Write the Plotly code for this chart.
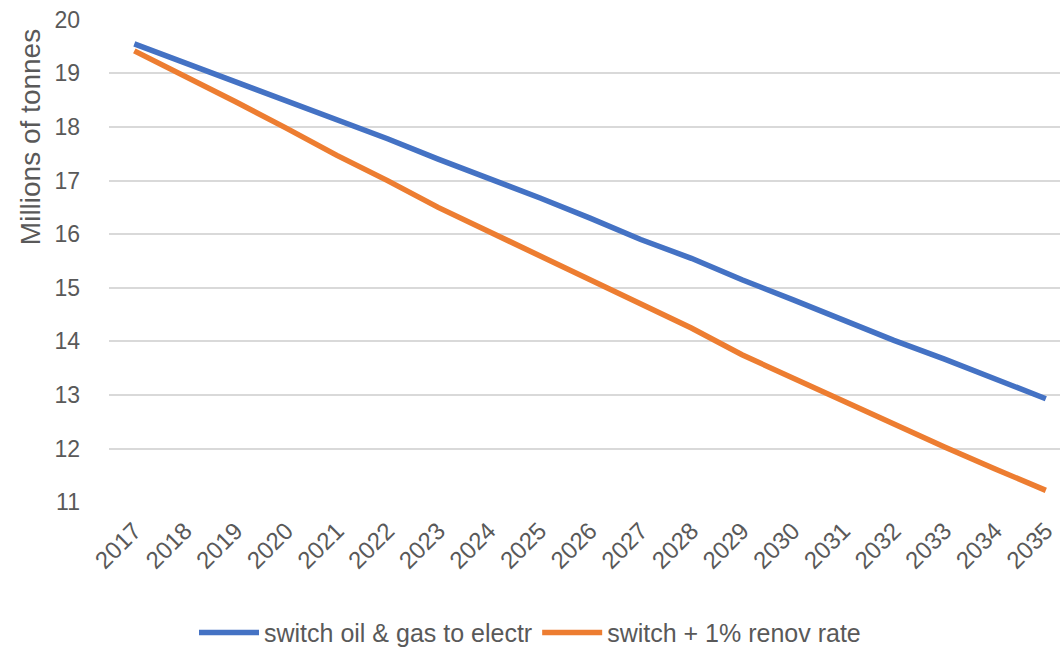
import plotly.graph_objects as go

years = list(range(2017, 2036))
switch_electr = [19.55, 19.2, 18.85, 18.5, 18.15, 17.78, 17.4, 17.05, 16.68, 16.3,
                 15.9, 15.55, 15.15, 14.78, 14.4, 14.02, 13.67, 13.3, 12.93]
switch_renov = [19.42, 18.95, 18.47, 17.98, 17.47, 17.0, 16.5, 16.05, 15.6, 15.13,
                14.68, 14.25, 13.75, 13.32, 12.9, 12.45, 12.03, 11.62, 11.22]
series_names = ["switch oil & gas to electr", "switch + 1% renov rate"]
y_ticks = list(range(11, 21))
y_title = "Millions of tonnes"

font_family = "Liberation Sans, Arial"
text_color = "#595959"

fig = go.Figure()
fig.add_trace(go.Scatter(x=years, y=switch_electr, mode="lines", name=series_names[0],
                         line=dict(color="#4472C4", width=5.5)))
fig.add_trace(go.Scatter(x=years, y=switch_renov, mode="lines", name=series_names[1],
                         line=dict(color="#ED7D31", width=5.5)))

fig.update_layout(
    width=1060, height=649,
    margin=dict(l=109, r=0, t=19, b=146),
    paper_bgcolor="white", plot_bgcolor="white",
    font=dict(family=font_family, color=text_color),
    showlegend=True,
    legend=dict(orientation="h", xref="container", yref="container",
                x=0.5, xanchor="center", y=0.025, yanchor="middle",
                font=dict(size=25, color=text_color), itemwidth=60, tracegroupgap=0),
    annotations=[dict(text=y_title, textangle=-90, xref="paper", yref="paper",
                      x=-0.083, y=0.756, xanchor="center", yanchor="middle",
                      showarrow=False, font=dict(size=28, color=text_color))],
)
fig.update_xaxes(
    range=[2016.5, 2035.28], tickmode="array", tickvals=years,
    ticktext=[str(y) for y in years], tickangle=-45, automargin=False,
    tickfont=dict(size=24, color=text_color), showgrid=False, zeroline=False,
    showline=False, ticks="", ticklabelstandoff=8,
)
fig.update_yaxes(
    range=[10.985, 20.015], tickmode="array", tickvals=y_ticks, automargin=False,
    tickfont=dict(size=23, color=text_color), showgrid=True, gridcolor="#D9D9D9",
    gridwidth=1.6, zeroline=False, showline=False, ticks="", ticklabelstandoff=28,
)

fig.write_html("out.html")
